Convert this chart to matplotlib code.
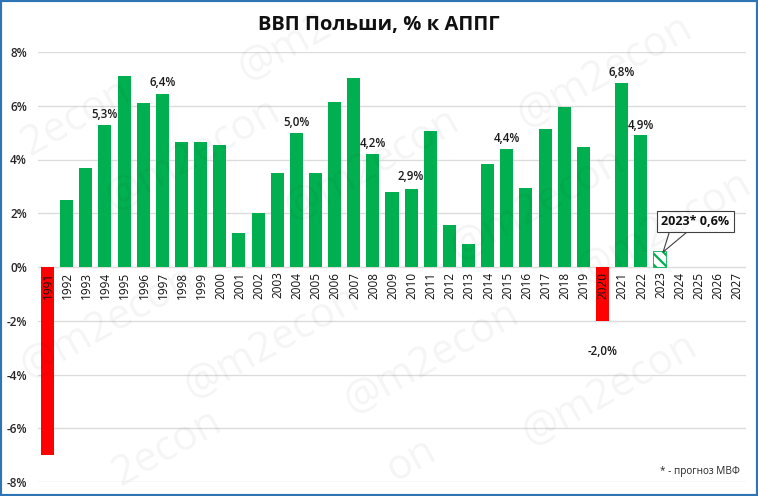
"""GDP of Poland bar chart, % yoy."""
import matplotlib.pyplot as plt
from matplotlib.patches import Rectangle

plt.rcParams['font.family'] = ['Open Sans', 'DejaVu Sans']
plt.rcParams['hatch.linewidth'] = 1.6

years = list(range(1991, 2028))
growth = [-7.0, 2.5, 3.7, 5.3, 7.1, 6.1, 6.45, 4.65, 4.65, 4.55, 1.25, 2.0, 3.5, 5.0, 3.5,
          6.15, 7.05, 4.2, 2.8, 2.9, 5.05, 1.55, 0.85, 3.85, 4.4, 2.95, 5.15, 5.95, 4.45,
          -2.0, 6.85, 4.9, 0.6]
yticks = [-8, -6, -4, -2, 0, 2, 4, 6, 8]

label_years = [1994, 1997, 2004, 2008, 2010, 2015, 2020, 2021, 2022]
label_texts = ['5,3%', '6,4%', '5,0%', '4,2%', '2,9%', '4,4%', '-2,0%', '6,8%', '4,9%']
label_y = [5.69, 6.86, 5.37, 4.6, 3.35, 4.8, -3.16, 7.25, 5.27]

# watermark pieces, pixel centres; the ones running off the picture are cut to what shows
wm_texts = ['@m2econ', '@m2econ', '@m2econ', '@m2econ', '@m2econ', '@m2econ', '@m2econ',
            '@m2econ', '@m2econ', '2econ', '2econ', 'on', '@m2']
wm_x = [108, 272, 432, 610, 193, 372, 605, 538, 664, 76, 167, 411, 285]
wm_y = [323, 343, 358, 390, 155, 165, 72, 205, 228, 118, 448, 460, 48]

GREEN = '#00b050'
RED = '#ff0000'
W, H = 758, 496

fig = plt.figure(figsize=(W / 100, H / 100), dpi=100)
ax = fig.add_axes([38 / W, 1 - 482 / H, 708 / W, 430 / H])

for year, value in zip(years, growth):
    if year == 2023:
        ax.bar(year, value, 0.68, facecolor='white', edgecolor=GREEN, hatch='\\\\\\', linewidth=0.6, zorder=3)
    else:
        ax.bar(year, value, 0.68, color=RED if value < 0 else GREEN, zorder=3)

ax.set_xlim(1990.5, 2027.5)
ax.set_ylim(-8, 8)
ax.set_yticks(yticks, [f'{t}%' for t in yticks], fontsize=8.5, fontweight='semibold', color='#262626')
ax.grid(axis='y', color='#dcdcdc', linewidth=1, zorder=0)
ax.set_axisbelow(True)
ax.tick_params(length=0)
ax.tick_params(axis='y', pad=8)
ax.set_xticks([])
for spine in ax.spines.values():
    spine.set_visible(False)

# year labels sit right under the zero line, over the negative bars
for year in years:
    ax.text(year + 0.04, -0.17, str(year), rotation=90, ha='center', va='top', fontsize=8.5, color='#111111',
            zorder=5)

for year, text, y in zip(label_years, label_texts, label_y):
    ax.text(year, y, text, ha='center', va='center', fontsize=8.3, fontweight='semibold', color='#1a1a1a', zorder=5)

ax.annotate('2023* 0,6%', xy=(2023.17, 0.56), xytext=(2024.84, 1.69), ha='center', va='center',
            fontsize=9, fontweight='bold', color='#111111', zorder=6,
            bbox=dict(boxstyle='square,pad=0.35', facecolor='white', edgecolor='#404040', linewidth=0.8),
            arrowprops=dict(arrowstyle='wedge,tail_width=1.5,shrink_factor=0.5', facecolor='white',
                            edgecolor='#404040', linewidth=0.8, shrinkA=0, shrinkB=0, patchA=None,
                            relpos=(0.29, 0.2)))

ax.text(2027.2, -7.6, '* - прогноз МВФ', ha='right', va='center', fontsize=7.2, color='#262626')

fig.text(0.5, 1 - 25 / H, 'ВВП Польши, % к АППГ', ha='center', va='center', fontsize=14.5, fontweight='bold',
         color='#111111')

for text, x, y in zip(wm_texts, wm_x, wm_y):
    fig.text(x / W, 1 - y / H, text, rotation=29, rotation_mode='anchor', ha='center', va='center', fontsize=30,
             color='#000000', alpha=0.045, zorder=10)

fig.add_artist(Rectangle((0, 0), 1, 1, transform=fig.transFigure, fill=False, edgecolor='#2e75b6', linewidth=3))

fig.savefig('out.png', dpi=100)
